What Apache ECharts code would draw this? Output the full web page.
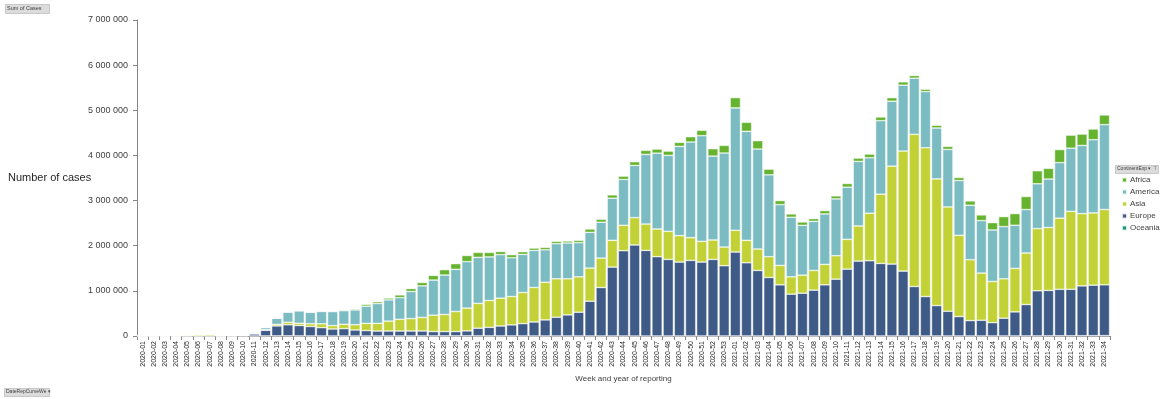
<!DOCTYPE html>
<html>
<head>
<meta charset="utf-8">
<script src="https://cdn.jsdelivr.net/npm/echarts@6/dist/echarts.min.js"></script>
<style>
  html, body { margin: 0; padding: 0; background: #fff; }
  #chart { width: 1160px; height: 399px; }
</style>
</head>
<body>
<div id="chart"></div>
<script>
// weeks 2020-01 .. 2020-53, 2021-01 .. 2021-34
var weeks = [];
for (var w = 1; w <= 53; w++) weeks.push('2020-' + (w < 10 ? '0' + w : w));
for (var w = 1; w <= 34; w++) weeks.push('2021-' + (w < 10 ? '0' + w : w));

// weekly cases, thousands
var europe = [0,0,0,0,0,0,0,0.5,3,12,45,125,220,245,230,210,185,155,163,133,
  120,110,110,110,110,110,96,96,96,110,170,190,220,245,274,310,356,415,467,526,
  770,1074,1526,1889,2015,1896,1756,1696,1637,1674,1637,1696,1556,
  1859,1622,1452,1296,1133,926,948,1015,1133,1259,1481,1659,1667,1607,1593,1437,1096,874,
  674,548,430,341,348,296,393,533,696,1000,1007,1030,1030,1104,1119,1126];
var asia = [0,0,0,2,22,30,32,5,5,10,15,15,35,55,50,60,85,75,97,117,
  160,170,220,260,275,300,364,378,444,505,550,595,617,629,689,764,834,852,800,785,
  734,652,593,563,607,584,614,622,585,504,459,430,414,
  482,497,474,460,430,385,400,437,452,519,660,778,1052,1534,2170,2659,3371,3296,
  2806,2311,1800,1348,1045,911,874,963,1141,1378,1393,1577,1726,1600,1600,1667];
var america = [0,0,0,0,0,0,0,0,0.5,2,25,45,135,225,275,255,275,310,300,327,
  380,440,470,480,600,700,777,874,934,1029,1020,965,963,859,844,822,720,777,793,756,
  792,794,933,1015,1156,1542,1680,1682,1978,2118,2341,1859,2082,
  2711,2414,2215,1814,1347,1319,1104,1088,1119,1259,1155,1430,1229,1629,1437,1460,1243,1245,
  1127,1274,1214,1207,1163,1141,1155,956,963,992,1074,1230,1400,1511,1622,1881];
var africa = [0,0,0,0,0,0,0,0,0,0.2,1,2,3,6,7,8,10,15,18,23,
  40,40,40,60,65,75,103,119,126,136,110,100,70,67,60,52,53,52,44,52,
  74,67,74,74,82,90,90,96,89,119,119,163,170,
  228,200,185,126,90,74,74,60,74,67,82,74,82,82,80,74,60,52,
  60,67,67,96,126,163,222,259,289,289,237,289,289,252,237,215];
var oceania = [0,0,0,0,0,0,0,0,0,0.1,0.5,1.5,3,3.5,2,0.7,0.3,0.1,0.1,0.1,
  0.1,0.1,0.2,0.3,0.6,1.2,2,2.5,3,3.2,2.5,2,1.4,1,0.8,0.6,0.5,0.4,0.4,0.4,
  0.4,0.4,0.4,0.5,0.5,0.5,0.5,0.5,0.5,0.5,0.6,0.6,0.6,
  0.7,0.5,0.4,0.3,0.3,0.3,0.3,0.3,0.3,0.3,0.3,0.3,0.4,0.4,0.5,0.5,0.5,0.5,
  0.5,0.5,0.5,0.5,0.5,0.6,0.8,1,1.5,2,3,4,5,6,7,8];

var colors = {
  Africa: '#65b32e',
  America: '#7bbcc3',
  Asia: '#c2d236',
  Europe: '#3e5a86',
  Oceania: '#15977b'
};

var myChart = echarts.init(document.getElementById('chart'));

function fmt(v) {
  return String(v).replace(/\B(?=(\d{3})+(?!\d))/g, ' ');
}

function mk(name, arr) {
  return {
    name: name,
    type: 'bar',
    stack: 'cases',
    barCategoryGap: '8%',
    data: arr.map(function (v) { return Math.round(v * 1000); }),
    itemStyle: { color: colors[name], borderColor: 'rgba(255,255,255,0.8)', borderWidth: 0.6 },
    emphasis: { disabled: true }
  };
}

var option = {
  animation: false,
  textStyle: { fontFamily: 'Liberation Sans, Arial, sans-serif' },
  grid: { left: 137, right: 50, top: 20, bottom: 63, containLabel: false },
  legend: {
    orient: 'vertical',
    left: 1116,
    top: 171,
    itemWidth: 5,
    itemHeight: 5,
    itemGap: 4,
    icon: 'rect',
    data: ['Africa', 'America', 'Asia', 'Europe', 'Oceania'],
    textStyle: { fontSize: 8, color: '#404040', padding: [0, 0, 0, -2] }
  },
  xAxis: {
    type: 'category',
    data: weeks,
    axisLine: { lineStyle: { color: '#868686' } },
    axisTick: { show: true, alignWithLabel: false, length: 4, lineStyle: { color: '#868686' } },
    axisLabel: { rotate: 90, interval: 0, fontSize: 7, color: '#262626', margin: 5 },
    name: 'Week and year of reporting',
    nameLocation: 'middle',
    nameGap: 38,
    nameTextStyle: { fontSize: 8, color: '#404040' }
  },
  yAxis: {
    type: 'value',
    min: 0,
    max: 7000000,
    interval: 1000000,
    splitLine: { show: false },
    axisLine: { show: true, lineStyle: { color: '#868686' } },
    axisTick: { show: true, length: 4, lineStyle: { color: '#868686' } },
    axisLabel: { fontSize: 9, color: '#404040', margin: 9, formatter: fmt }
  },
  graphic: [
    { type: 'rect', left: 5, top: 4, shape: { width: 44, height: 9 }, style: { fill: '#dcdcdc', stroke: '#c8c8c8' } },
    { type: 'text', left: 7, top: 5.5, style: { text: 'Sum of Cases', fontSize: 5.5, fill: '#404040' } },
    { type: 'text', left: 8, top: 172, style: { text: 'Number of cases', fontSize: 11, fill: '#262626' } },
    { type: 'rect', left: 1115, top: 165, shape: { width: 43, height: 8 }, style: { fill: '#dcdcdc', stroke: '#c8c8c8' } },
    { type: 'text', left: 1117, top: 166, style: { text: 'ContinentExp ▾ ⊤', fontSize: 5, fill: '#404040' } },
    { type: 'rect', left: 4, top: 388, shape: { width: 45, height: 8 }, style: { fill: '#dcdcdc', stroke: '#c8c8c8' } },
    { type: 'text', left: 6, top: 389.5, style: { text: 'DateRepCurveWe ▾', fontSize: 5, fill: '#404040' } }
  ],
  series: [
    mk('Oceania', oceania),
    mk('Europe', europe),
    mk('Asia', asia),
    mk('America', america),
    mk('Africa', africa)
  ]
};

myChart.setOption(option);
</script>
</body>
</html>
